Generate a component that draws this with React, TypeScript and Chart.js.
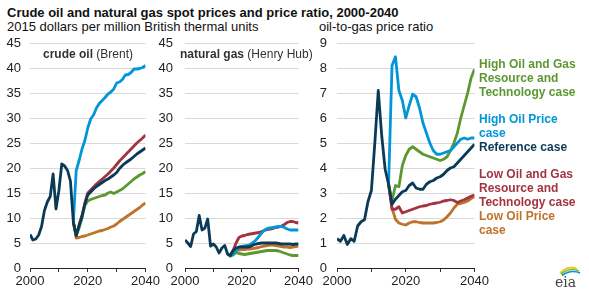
import React, { useEffect, useRef } from 'react';
import { Chart, registerables } from 'chart.js';

Chart.register(...registerables);

// ---------- data ----------
const historyYears = [2000, 2001, 2002, 2003, 2004, 2005, 2006, 2007, 2008, 2009, 2010, 2011, 2012, 2013, 2014, 2015];
const projectionYears = [2016, 2017, 2018, 2019, 2020, 2021, 2022, 2023, 2024, 2025, 2026, 2027, 2028, 2029, 2030, 2031, 2032, 2033, 2034, 2035, 2036, 2037, 2038, 2039, 2040];
const xTickLabels = [2000, 2020, 2040];

// crude oil (Brent), 2015 $/MMBtu
const oilHistory = [6.7, 5.6, 5.8, 6.6, 8.3, 11.5, 13.2, 14.3, 18.8, 11.8, 15.5, 20.8, 20.4, 19.5, 17.4, 9.2];
const oilReference = [6.5, 8.5, 10.3, 12.8, 14.6, 15.2, 15.8, 16.3, 16.7, 17.1, 17.5, 17.8, 18.2, 18.6, 19.1, 19.9, 20.5, 21.0, 21.4, 21.8, 22.3, 22.8, 23.2, 23.6, 24.0];
const oilHighPrice = [19.5, 21.5, 23.8, 25.5, 28.0, 29.8, 30.6, 32.0, 32.9, 33.5, 34.1, 34.8, 35.2, 35.8, 37.0, 37.2, 37.7, 38.6, 38.7, 39.1, 39.8, 39.8, 39.9, 40.1, 40.5];
const oilLowPrice = [6.0, 6.1, 6.3, 6.4, 6.6, 6.8, 7.0, 7.2, 7.4, 7.5, 7.7, 7.9, 8.2, 8.4, 8.8, 9.3, 9.7, 10.1, 10.5, 10.9, 11.3, 11.7, 12.1, 12.6, 13.0];
const oilHighResource = [6.5, 8.0, 10.0, 12.5, 13.4, 13.7, 13.9, 14.1, 14.3, 14.5, 14.6, 15.0, 15.2, 14.9, 15.2, 15.5, 15.8, 16.3, 16.8, 17.3, 17.8, 18.2, 18.6, 18.9, 19.3];
const oilLowResource = [6.4, 8.6, 10.5, 13.0, 15.0, 15.6, 16.2, 16.8, 17.3, 17.8, 18.3, 18.8, 19.4, 20.0, 20.7, 21.4, 22.0, 22.6, 23.2, 23.8, 24.4, 25.0, 25.5, 26.0, 26.6];

// natural gas (Henry Hub), 2015 $/MMBtu
const gasHistory = [5.6, 5.0, 4.3, 6.8, 7.3, 10.5, 7.6, 8.0, 9.8, 4.4, 4.8, 4.2, 3.0, 4.0, 4.5, 2.8];
const gasReference = [2.5, 3.5, 4.0, 4.2, 4.2, 4.2, 4.2, 4.3, 4.6, 4.8, 4.9, 5.0, 5.0, 5.0, 5.0, 5.0, 5.0, 4.9, 4.8, 4.8, 4.8, 4.8, 4.7, 4.8, 4.8];
const gasHighPrice = [2.4, 2.9, 3.5, 4.0, 4.3, 4.4, 4.5, 4.7, 5.1, 5.6, 6.3, 7.0, 7.6, 7.9, 8.0, 8.1, 8.2, 8.3, 8.3, 8.1, 7.8, 7.6, 7.6, 7.6, 7.6];
const gasLowPrice = [2.5, 3.1, 3.5, 3.6, 3.7, 3.7, 3.8, 3.8, 3.9, 4.0, 4.1, 4.3, 4.4, 4.5, 4.6, 4.6, 4.5, 4.4, 4.3, 4.2, 4.2, 4.1, 4.2, 4.3, 4.4];
const gasHighResource = [2.4, 2.6, 3.1, 2.9, 2.8, 2.7, 2.8, 2.9, 3.0, 3.1, 3.2, 3.3, 3.4, 3.5, 3.5, 3.5, 3.5, 3.4, 3.2, 3.0, 2.8, 2.6, 2.5, 2.5, 2.5];
const gasLowResource = [2.6, 3.6, 5.0, 6.1, 6.4, 6.5, 6.7, 6.8, 6.9, 7.0, 7.1, 7.3, 7.5, 7.7, 7.8, 7.9, 8.1, 8.2, 8.4, 8.7, 9.1, 9.3, 9.3, 9.1, 9.0];

// oil-to-gas price ratio
const ratioHistory = [1.17, 1.07, 1.3, 0.94, 1.17, 1.07, 1.68, 1.85, 1.93, 2.65, 3.1, 5.0, 7.1, 5.3, 3.95, 3.35];
const ratioReference = [2.55, 2.75, 2.9, 3.05, 3.1, 3.3, 3.4, 3.2, 3.15, 3.15, 3.35, 3.45, 3.5, 3.6, 3.65, 3.75, 3.9, 4.0, 4.05, 4.2, 4.35, 4.5, 4.65, 4.8, 4.95];
const ratioHighPrice = [8.1, 8.45, 7.1, 6.7, 6.0, 6.5, 6.95, 6.85, 6.4, 5.8, 5.4, 5.0, 4.7, 4.55, 4.55, 4.6, 4.65, 4.7, 4.85, 5.0, 5.15, 5.2, 5.15, 5.2, 5.2];
const ratioLowPrice = [2.4, 1.95, 1.8, 1.75, 1.72, 1.8, 1.85, 1.85, 1.82, 1.8, 1.8, 1.8, 1.8, 1.82, 1.85, 1.92, 2.05, 2.2, 2.4, 2.55, 2.58, 2.62, 2.68, 2.78, 2.85];
const ratioHighResource = [2.7, 3.3, 3.25, 4.1, 4.5, 4.75, 4.85, 4.75, 4.65, 4.55, 4.5, 4.45, 4.4, 4.35, 4.3, 4.35, 4.45, 4.7, 5.0, 5.4, 6.0, 6.5, 7.0, 7.6, 7.95];
const ratioLowResource = [2.35, 2.35, 2.45, 2.2, 2.25, 2.3, 2.35, 2.4, 2.45, 2.48, 2.5, 2.55, 2.58, 2.6, 2.63, 2.68, 2.7, 2.73, 2.7, 2.62, 2.68, 2.73, 2.8, 2.87, 2.92];

// ---------- style ----------
const NAVY = '#0b3a57';
const LIGHT_BLUE = '#0096d7';
const GREEN = '#5d9732';
const RED = '#a33340';
const ORANGE = '#bd732a';
const FONT = 'Arial, "Liberation Sans", Helvetica, sans-serif';

Chart.defaults.font.family = FONT;

function toPoints(years: number[], vals: number[]) {
  return years.map((x, i) => ({ x, y: vals[i] }));
}

function buildDatasets(hist: number[], ref: number[], hi: number[], lo: number[], hiRes: number[], loRes: number[]) {
  const lastYear = historyYears[historyYears.length - 1];
  const lastVal = hist[hist.length - 1];
  const branch = (vals: number[]) => [{ x: lastYear, y: lastVal }, ...toPoints(projectionYears, vals)];
  const line = (label: string, data: any[], color: string) => ({
    label,
    data,
    borderColor: color,
    backgroundColor: color,
    borderWidth: 2.8,
    pointRadius: 0,
    tension: 0,
    borderJoinStyle: 'round' as const,
    fill: false,
  });
  return [
    line('Reference case', [...toPoints(historyYears, hist), ...toPoints(projectionYears, ref)], NAVY),
    line('High Oil Price case', branch(hi), LIGHT_BLUE),
    line('High Oil and Gas Resource and Technology case', branch(hiRes), GREEN),
    line('Low Oil and Gas Resource and Technology case', branch(loRes), RED),
    line('Low Oil Price case', branch(lo), ORANGE),
  ];
}

type PanelProps = {
  left: number;
  yAxisWidth: number;
  plotWidth: number;
  padRight: number;
  labelPad: number;
  yMax: number;
  yStep: number;
  datasets: any[];
};

function Panel({ left, yAxisWidth, plotWidth, padRight, labelPad, yMax, yStep, datasets }: PanelProps) {
  const ref = useRef<HTMLCanvasElement | null>(null);
  const width = yAxisWidth + plotWidth + padRight;
  const height = 295;
  useEffect(() => {
    if (!ref.current) return;
    const chart = new Chart(ref.current, {
      type: 'line',
      data: { datasets },
      options: {
        animation: false,
        responsive: false,
        devicePixelRatio: 1,
        layout: { padding: { top: 43, right: padRight, bottom: 0, left: 0 } },
        plugins: { legend: { display: false }, tooltip: { enabled: false }, title: { display: false } },
        scales: {
          x: {
            type: 'linear',
            min: 2000,
            max: 2040,
            afterFit: (s: any) => { s.height = 27; },
            ticks: {
              stepSize: 10,
              autoSkip: false,
              maxRotation: 0,
              padding: 2,
              color: '#222',
              font: { size: 13, family: FONT },
              callback: (v: any) => (xTickLabels.includes(Number(v)) ? String(v) : ''),
            },
            grid: { drawOnChartArea: false, drawTicks: true, tickLength: 4, color: '#333' },
            border: { display: true, color: '#222', width: 1 },
          },
          y: {
            min: 0,
            max: yMax,
            afterFit: (s: any) => { s.width = yAxisWidth; },
            ticks: { stepSize: yStep, padding: labelPad, color: '#222', font: { size: 13, family: FONT } },
            grid: { color: '#d9d9d9', drawTicks: false, lineWidth: 1 },
            border: { display: false },
          },
        },
      } as any,
    });
    return () => chart.destroy();
  }, []);
  return (
    <canvas
      ref={ref}
      width={width}
      height={height}
      style={{ position: 'absolute', left, top: 0, width, height }}
    />
  );
}

const legendItems = [
  { lines: ['High Oil and Gas', 'Resource and', 'Technology case'], color: GREEN, top: 57 },
  { lines: ['High Oil Price', 'case'], color: LIGHT_BLUE, top: 112 },
  { lines: ['Reference case'], color: NAVY, top: 140 },
  { lines: ['Low Oil and Gas', 'Resource and', 'Technology case'], color: RED, top: 167 },
  { lines: ['Low Oil Price', 'case'], color: ORANGE, top: 209 },
];

export default function App() {
  const oilSets = buildDatasets(oilHistory, oilReference, oilHighPrice, oilLowPrice, oilHighResource, oilLowResource);
  const gasSets = buildDatasets(gasHistory, gasReference, gasHighPrice, gasLowPrice, gasHighResource, gasLowResource);
  const ratioSets = buildDatasets(ratioHistory, ratioReference, ratioHighPrice, ratioLowPrice, ratioHighResource, ratioLowResource);

  const text = (extra: React.CSSProperties): React.CSSProperties => ({
    position: 'absolute',
    fontFamily: FONT,
    whiteSpace: 'nowrap',
    margin: 0,
    ...extra,
  });

  return (
    <div style={{ position: 'fixed', left: 0, top: 0, width: 589, height: 295, background: '#fff', overflow: 'hidden' }}>
      <div style={text({ left: 7, top: 5, fontSize: 13, lineHeight: '15px', fontWeight: 'bold', color: '#111' })}>
        Crude oil and natural gas spot prices and price ratio, 2000-2040
      </div>
      <div style={text({ left: 7, top: 18.5, fontSize: 13, lineHeight: '15px', color: '#111' })}>
        2015 dollars per million British thermal units
      </div>
      <div style={text({ left: 319, top: 18.5, fontSize: 13, lineHeight: '15px', color: '#111' })}>
        oil-to-gas price ratio
      </div>

      <Panel left={0} yAxisWidth={30} plotWidth={117} padRight={15} labelPad={9} yMax={45} yStep={5} datasets={oilSets} />
      <Panel left={155} yAxisWidth={30} plotWidth={115} padRight={15} labelPad={12} yMax={45} yStep={5} datasets={gasSets} />
      <Panel left={300} yAxisWidth={37} plotWidth={139} padRight={15} labelPad={10} yMax={9} yStep={1} datasets={ratioSets} />

      <div style={text({ left: 43, top: 47, fontSize: 12, lineHeight: '14px', color: '#333' })}>
        <b>crude oil</b> (Brent)
      </div>
      <div style={text({ left: 180, top: 47, fontSize: 12, lineHeight: '14px', color: '#333' })}>
        <b>natural gas</b> (Henry Hub)
      </div>

      {legendItems.map((item) => (
        <div
          key={item.lines.join(' ')}
          style={text({ left: 479, top: item.top, fontSize: 12, lineHeight: '14px', fontWeight: 'bold', color: item.color })}
        >
          {item.lines.map((l) => (
            <div key={l}>{l}</div>
          ))}
        </div>
      ))}

      <svg style={{ position: 'absolute', left: 552, top: 262 }} width={34} height={30} viewBox="0 0 34 30">
        <path d="M8 11 Q16 3 25 7" stroke="#f2c200" strokeWidth={1.6} fill="none" />
        <path d="M9 12 Q18 5 27 9" stroke="#7ab648" strokeWidth={1.6} fill="none" />
        <path d="M10 13.5 Q19 7 28 11" stroke="#0096d7" strokeWidth={1.6} fill="none" />
        <text x={3} y={25} fontFamily='"DejaVu Serif", "Liberation Serif", serif' fontSize={14} fill="#444">eia</text>
      </svg>
    </div>
  );
}
